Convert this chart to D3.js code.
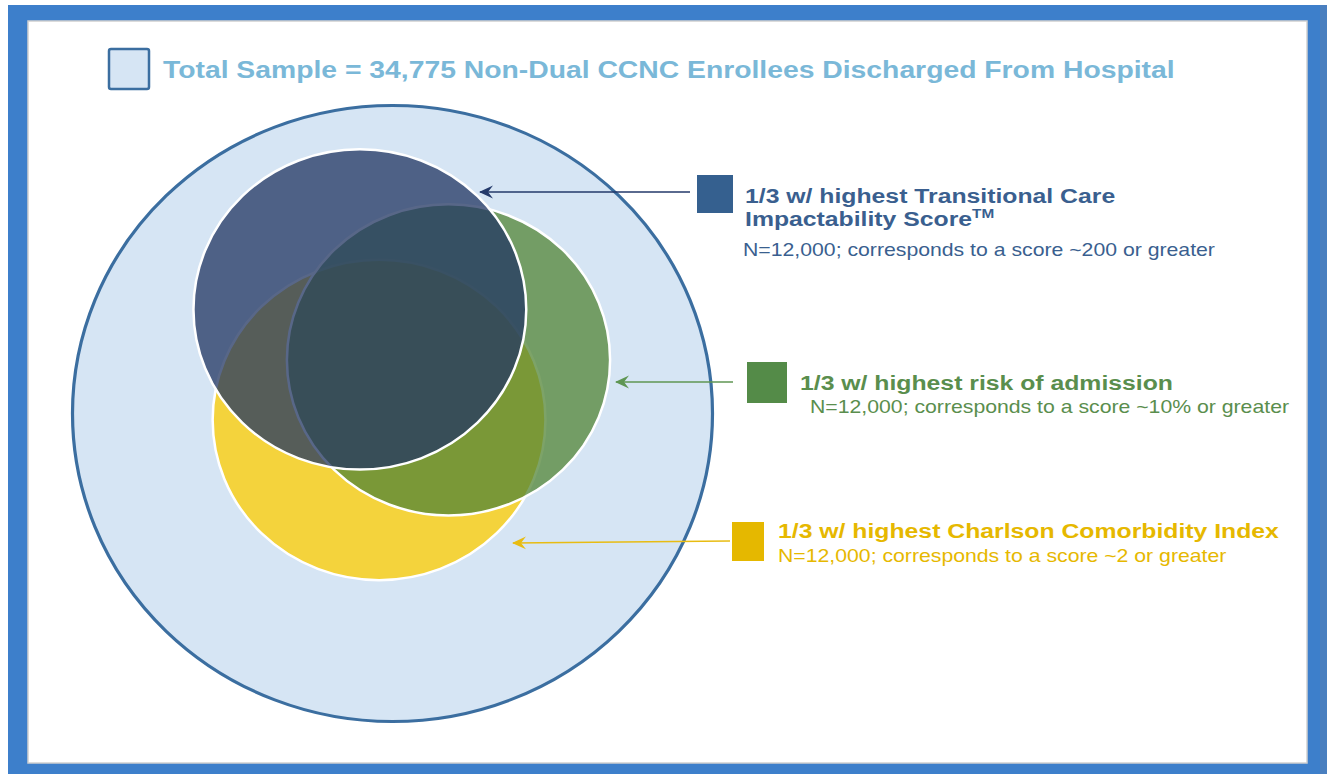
<!DOCTYPE html>
<html>
<head>
<meta charset="utf-8">
<script src="https://cdn.jsdelivr.net/npm/d3@7"></script>
<style>
  body { margin: 0; background: #fff; }
  text { font-family: "Liberation Sans", Arial, sans-serif; }
</style>
</head>
<body>
<svg id="chart"></svg>
<script>
// total sample
var totalLabel = "Total Sample = 34,775 Non-Dual CCNC Enrollees Discharged From Hospital";
var totalN = 34775;

// the three subsets (outer circle = -1..1 on both axes)
var setKeys   = ["tcis", "risk", "charlson"];
var setTitles = ["1/3 w/ highest Transitional Care", "1/3 w/ highest risk of admission", "1/3 w/ highest Charlson Comorbidity Index"];
var setTitles2 = ["Impactability Score", "", ""];
var setNotes  = ["N=12,000; corresponds to a score ~200 or greater",
                 "N=12,000; corresponds to a score ~10% or greater",
                 "N=12,000; corresponds to a score ~2 or greater"];
var setN      = [12000, 12000, 12000];
var setCx     = [-0.102, 0.175, -0.042];
var setCy     = [-0.338, -0.174, 0.021];
var setR      = [0.52, 0.505, 0.52];
var setFill   = ["#243763", "#528436", "#f4d33c"];
var setOpacity = [0.76, 0.75, 1];
var setText   = ["#3a5f8f", "#5a8e4d", "#e6b800"];
var setSquare = ["#35608f", "#548b48", "#e5b800"];
var setArrow  = ["#23396a", "#5f9653", "#e8bc12"];

var svgWidth = 1327, svgHeight = 774;
var svg = d3.select("#chart").attr("width", svgWidth).attr("height", svgHeight);

// frame
svg.append("rect").attr("x", 8).attr("y", 5).attr("width", svgWidth - 8).attr("height", svgHeight - 5).attr("fill", "#3d7fcb");
svg.append("rect").attr("x", 1320).attr("y", 5).attr("width", 7).attr("height", svgHeight - 5).attr("fill", "#4a7fbf");
svg.append("rect").attr("x", 28).attr("y", 21).attr("width", 1279).attr("height", 742).attr("fill", "#fff")
  .attr("stroke", "#d0d0d0").attr("stroke-width", 1.5);

// scales for the venn area
var x = d3.scaleLinear().domain([-1, 1]).range([72.5, 712.5]);
var y = d3.scaleLinear().domain([-1, 1]).range([105.5, 721.5]);
var rx = function(r) { return x(r) - x(0); };
var ry = function(r) { return y(r) - y(0); };

// outer circle = total sample
svg.append("ellipse")
  .attr("cx", x(0)).attr("cy", y(0))
  .attr("rx", rx(1)).attr("ry", ry(1))
  .attr("fill", "#d6e5f4")
  .attr("stroke", "#3b6ea0")
  .attr("stroke-width", 3.2);

// total legend
svg.append("rect").attr("x", 109).attr("y", 49).attr("width", 40).attr("height", 40).attr("rx", 2)
  .attr("fill", "#d6e5f4").attr("stroke", "#3b6ea0").attr("stroke-width", 2.5);
svg.append("text")
  .attr("transform", "translate(163,78) scale(1.18,1)")
  .attr("font-size", 24).attr("font-weight", "bold").attr("fill", "#7ab8d8")
  .text(totalLabel);

// subsets drawn bottom-up: charlson, risk, tcis
var order = [2, 1, 0];
svg.append("g").selectAll("ellipse")
  .data(order)
  .join("ellipse")
  .attr("cx", function(i) { return x(setCx[i]); })
  .attr("cy", function(i) { return y(setCy[i]); })
  .attr("rx", function(i) { return rx(setR[i]); })
  .attr("ry", function(i) { return ry(setR[i]); })
  .attr("fill", function(i) { return setFill[i]; })
  .attr("fill-opacity", function(i) { return setOpacity[i]; })
  .attr("stroke", "#fff")
  .attr("stroke-width", 2.5);

// arrow markers (tip at the end of the line)
var defs = svg.append("defs");
setKeys.forEach(function(k, i) {
  defs.append("marker")
    .attr("id", "arrow-" + k)
    .attr("viewBox", "0 0 14 14")
    .attr("refX", 13).attr("refY", 7)
    .attr("markerWidth", 14).attr("markerHeight", 14)
    .attr("markerUnits", "userSpaceOnUse")
    .attr("orient", "auto")
    .append("path")
    .attr("d", "M14,7 L0,0.5 L5,7 L0,13.5 Z")
    .attr("fill", setArrow[i]);
});

// legend layout (pixels)
var legSquare = [[697, 175, 36, 38], [747, 362, 40, 41], [732, 522, 32, 39]];
var legText   = [[745, 203], [800, 390], [778, 538]];
var legNote   = [[743, 256], [810, 413], [778, 562]];
var arrowLine = [[[690, 192], [480, 192]], [[733, 382], [616, 382]], [[730, 541], [513, 543]]];

setKeys.forEach(function(k, i) {
  svg.append("line")
    .attr("x1", arrowLine[i][0][0]).attr("y1", arrowLine[i][0][1])
    .attr("x2", arrowLine[i][1][0]).attr("y2", arrowLine[i][1][1])
    .attr("stroke", setArrow[i]).attr("stroke-width", 1.6)
    .attr("marker-end", "url(#arrow-" + k + ")");

  svg.append("rect")
    .attr("x", legSquare[i][0]).attr("y", legSquare[i][1])
    .attr("width", legSquare[i][2]).attr("height", legSquare[i][3])
    .attr("fill", setSquare[i]);

  svg.append("text")
    .attr("transform", "translate(" + legText[i][0] + "," + legText[i][1] + ") scale(1.18,1)")
    .attr("font-size", 21).attr("font-weight", "bold").attr("fill", setText[i])
    .text(setTitles[i]);

  if (setTitles2[i]) {
    var t2 = svg.append("text")
      .attr("transform", "translate(" + legText[i][0] + "," + (legText[i][1] + 23) + ") scale(1.18,1)")
      .attr("font-size", 21).attr("font-weight", "bold").attr("fill", setText[i]);
    t2.append("tspan").text(setTitles2[i]);
    t2.append("tspan").attr("font-size", 13).attr("dy", -8).text("TM");
  }

  svg.append("text")
    .attr("transform", "translate(" + legNote[i][0] + "," + legNote[i][1] + ") scale(1.18,1)")
    .attr("font-size", 18).attr("fill", setText[i])
    .text(setNotes[i]);
});
</script>
</body>
</html>
